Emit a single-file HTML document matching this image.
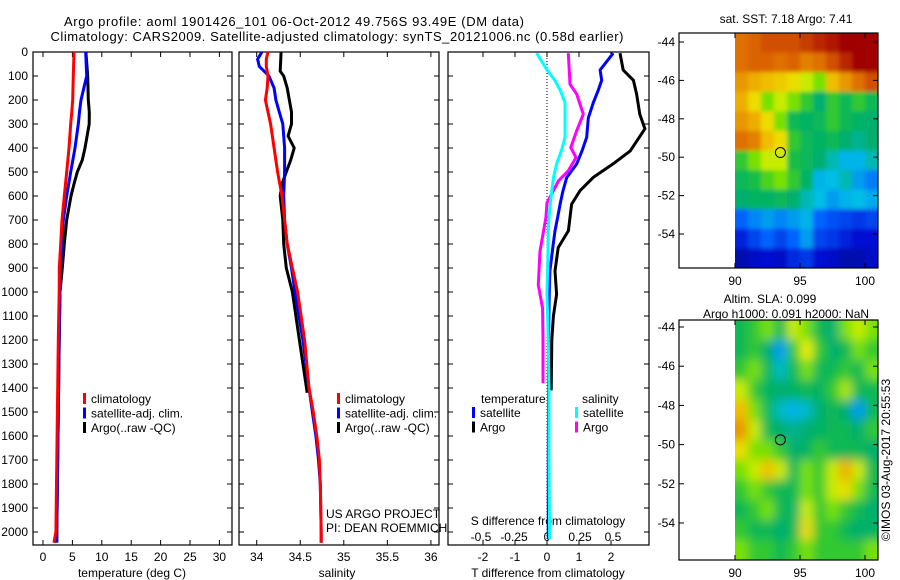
<!DOCTYPE html>
<html><head><meta charset="utf-8">
<style>
html,body{margin:0;padding:0;background:#fff;}
svg{display:block;font-family:"Liberation Sans",sans-serif;}
</style></head>
<body>
<svg id="fig" width="900" height="580" viewBox="0 0 900 580">
<defs>
<clipPath id="clipSST"><rect x="735" y="33" width="143" height="235"/></clipPath>
<clipPath id="clipSLA"><rect x="735" y="320" width="143" height="240"/></clipPath>
<filter id="blurS" x="-10%" y="-10%" width="120%" height="120%"><feGaussianBlur stdDeviation="2"/></filter>
<filter id="blurL" x="-10%" y="-10%" width="120%" height="120%"><feGaussianBlur stdDeviation="5"/></filter>
</defs>
<text x="294" y="26" font-size="13" text-anchor="middle" textLength="460">Argo profile: aoml 1901426_101 06-Oct-2012 49.756S 93.49E (DM data)</text>
<text x="337" y="41" font-size="13" text-anchor="middle" textLength="573">Climatology: CARS2009. Satellite-adjusted climatology: synTS_20121006.nc (0.58d earlier)</text>
<g id="content"></g>
</svg>
<script>
// ---------- data ----------
const tDepth = [0,100,200,250,300,400,500,600,700,800,900,1000,1200,1500,1800,2000,2045];
const tClim  = [5.27,5.15,5.05,4.9,4.71,4.42,4.03,3.62,3.23,3.01,2.77,2.75,2.6,2.45,2.3,2.2,1.85];
const tSat   = [7.26,7.43,6.46,6.2,6.0,5.44,4.71,4.03,3.45,3.18,3.01,2.89,2.75,2.6,2.45,2.35,2.35];
const tArgoDepth = [0,100,200,250,300,400,450,500,550,600,700,800,900,1000,1200,1500,1800,2000,2040];
const tArgo  = [7.3,7.6,7.7,7.87,7.85,7.14,6.68,5.83,5.27,4.76,4.03,3.62,3.28,2.89,2.75,2.6,2.45,2.35,2.35];

const sDepth = [0,30,60,100,150,200,250,300,400,500,600,700,800,900,1000,1200,1400,1500,1600,1700,1800,2000,2045];
const sClim  = [34.13,34.11,34.11,34.13,34.12,34.10,34.13,34.16,34.2,34.24,34.29,34.32,34.35,34.41,34.47,34.55,34.6,34.65,34.69,34.72,34.73,34.74,34.74];
const sSat   = [34.06,34.01,34.03,34.14,34.2,34.22,34.26,34.3,34.32,34.32,34.31,34.32,34.35,34.4,34.44,34.53,34.6,34.64,34.68,34.71,34.73,34.74,34.74];
const sArgoDepth = [0,80,100,150,250,300,350,400,450,500,550,600,700,800,900,1000,1200,1420];
const sArgo  = [34.28,34.27,34.31,34.35,34.4,34.4,34.36,34.43,34.39,34.34,34.29,34.27,34.3,34.31,34.34,34.41,34.49,34.58];

const dDepth = [5,75,118,160,210,275,355,410,466,522,578,634,690,745,815,913,1010,1200,1400,1700,2030];
const dTsat  = [2.07,1.66,1.71,1.6,1.45,1.29,1.24,1.1,0.93,0.62,0.5,0.41,0.33,0.25,0.18,0.09,0.07,0.05,0.05,0.04,0.04];
const dTargoDepth = [5,75,118,175,259,320,372,412,466,522,578,634,745,815,913,1010,1100,1200,1410];
const dTargo = [2.28,2.38,2.7,2.8,2.9,3.06,2.8,2.6,2.07,1.45,1.03,0.77,0.67,0.35,0.25,0.3,0.2,0.15,0.13];
const dSsat  = [-0.078,0,0.06,0.1,0.136,0.136,0.136,0.11,0.073,0.05,0.036,0.025,0.015,0.01,0.008,0.004,0,0.01,0.015,0.015,0.02];
const dSargoDepth = [5,134,175,259,328,398,440,495,537,579,628,690,830,970,1068,1200,1380];
const dSargo = [0.161,0.174,0.225,0.275,0.225,0.18,0.22,0.161,0.086,0.048,0,-0.008,-0.053,-0.066,-0.033,-0.03,-0.03];

const depthTicks = [0,100,200,300,400,500,600,700,800,900,1000,1100,1200,1300,1400,1500,1600,1700,1800,1900,2000];
const tempTicks = [0,5,10,15,20,25,30];
const salTicks = [34,34.5,35,35.5,36];
const salTickLabels = ["34","34.5","35","35.5","36"];
const tdTicks = [-2,-1,0,1,2];
const sdTicks = [-0.5,-0.25,0,0.25,0.5];
const latTicks = [-44,-46,-48,-50,-52,-54];
const lonTicks = [90,95,100];

const sstGrid = [
[0.8,0.82,0.85,0.85,0.85,0.88,0.92,0.95,1,1,1],
[0.8,0.82,0.82,0.8,0.82,0.78,0.8,0.85,0.92,1,1],
[0.75,0.72,0.7,0.68,0.65,0.6,0.55,0.7,0.75,0.8,0.85],
[0.72,0.65,0.55,0.6,0.55,0.5,0.4,0.5,0.45,0.5,0.45],
[0.75,0.72,0.65,0.55,0.45,0.42,0.44,0.5,0.45,0.42,0.4],
[0.8,0.78,0.7,0.65,0.5,0.44,0.42,0.45,0.4,0.38,0.4],
[0.5,0.55,0.6,0.6,0.48,0.44,0.4,0.36,0.32,0.32,0.36],
[0.44,0.48,0.52,0.55,0.5,0.42,0.32,0.33,0.36,0.3,0.27],
[0.4,0.42,0.42,0.44,0.4,0.36,0.33,0.3,0.32,0.33,0.31],
[0.25,0.28,0.3,0.28,0.3,0.32,0.25,0.22,0.2,0.18,0.2],
[0.15,0.2,0.25,0.2,0.25,0.3,0.2,0.18,0.15,0.12,0.12],
[0.06,0.1,0.12,0.1,0.16,0.18,0.12,0.1,0.06,0.06,0.1]];
const slaGrid = [
[0.45,0.5,0.55,0.45,0.6,0.55,0.45,0.4,0.55,0.6,0.55],
[0.45,0.5,0.4,0.3,0.5,0.62,0.5,0.4,0.45,0.55,0.5],
[0.5,0.55,0.45,0.35,0.45,0.55,0.45,0.45,0.5,0.45,0.55],
[0.6,0.5,0.42,0.4,0.42,0.45,0.42,0.5,0.58,0.45,0.45],
[0.7,0.55,0.45,0.35,0.32,0.35,0.4,0.45,0.4,0.3,0.45],
[0.75,0.6,0.45,0.4,0.38,0.4,0.42,0.45,0.45,0.4,0.5],
[0.65,0.55,0.55,0.5,0.4,0.42,0.5,0.45,0.45,0.45,0.4],
[0.55,0.6,0.7,0.6,0.45,0.55,0.5,0.6,0.72,0.6,0.45],
[0.5,0.55,0.5,0.45,0.45,0.55,0.5,0.6,0.65,0.55,0.45],
[0.45,0.5,0.55,0.45,0.42,0.6,0.5,0.55,0.5,0.45,0.4],
[0.5,0.45,0.45,0.4,0.45,0.65,0.5,0.5,0.45,0.4,0.42],
[0.55,0.5,0.5,0.45,0.5,0.55,0.5,0.5,0.5,0.5,0.55]];
const argoLon = [93.49];
const argoLat = [-49.756];

// ---------- scales ----------
const TOP=52, BOT=545;
const yD = d => TOP + d*0.24;
const xT = t => 43 + t*5.88;
const xS = s => 256.7 + (s-34)*87.1;
const xTd = t => 547 + t*32;
const xSd = s => 547 + s*132;
const xLon = l => 735 + (l-90)*13.0;
const yLat1 = l => 42 + (-44-l)*19.2;
const yLat2 = l => 327 + (-44-l)*19.6;

const NS="http://www.w3.org/2000/svg";
const root=document.getElementById('content');
function el(tag, attrs, parent){const e=document.createElementNS(NS,tag);for(const k in attrs)e.setAttribute(k,attrs[k]);(parent||root).appendChild(e);return e;}
function txt(x,y,s,size,anchor,parent){const e=el('text',{x:x,y:y,'font-size':size,'text-anchor':anchor||'middle'},parent);e.textContent=s;return e;}
function stepPath(xs,ds,xf){let p='';for(let i=0;i<xs.length;i++){const x=xf(xs[i]),y=yD(ds[i]);p+=(i?'L':'M')+x.toFixed(1)+','+y.toFixed(1);}return p;}

const panels=[{x0:33,x1:232,n:'temperature'},{x0:239,x1:439,n:'salinity'},{x0:448,x1:649,n:'difference'}];
panels.forEach(p=>{
  const r=el('rect',{x:p.x0,y:TOP,width:p.x1-p.x0,height:BOT-TOP,fill:'#fff',stroke:'#000','stroke-width':1.2});
  
  
  depthTicks.forEach(d=>{
    el('line',{x1:p.x0,x2:p.x0+5,y1:yD(d),y2:yD(d),stroke:'#000'});
    el('line',{x1:p.x1,x2:p.x1-5,y1:yD(d),y2:yD(d),stroke:'#000'});
  });
});
depthTicks.forEach(d=>{
  const t=txt(28,yD(d)+4,String(d),12,'end');
  
  
});
tempTicks.forEach(v=>{
  el('line',{x1:xT(v),x2:xT(v),y1:BOT,y2:BOT-5,stroke:'#000'});
  el('line',{x1:xT(v),x2:xT(v),y1:TOP,y2:TOP+5,stroke:'#000'});
  const t=txt(xT(v),561,String(v),12);
  
  
});
salTicks.forEach((v,i)=>{
  el('line',{x1:xS(v),x2:xS(v),y1:BOT,y2:BOT-5,stroke:'#000'});
  el('line',{x1:xS(v),x2:xS(v),y1:TOP,y2:TOP+5,stroke:'#000'});
  const t=txt(xS(v),561,salTickLabels[i],12);
  
  
});
tdTicks.forEach(v=>{
  el('line',{x1:xTd(v),x2:xTd(v),y1:BOT,y2:BOT-5,stroke:'#000'});
  el('line',{x1:xTd(v),x2:xTd(v),y1:TOP,y2:TOP+5,stroke:'#000'});
  const t=txt(xTd(v),561,String(v),12);
  
  
});
sdTicks.forEach(v=>{
  const t=txt(xSd(v),541,String(v),12);
  
  
});
const zl=el('line',{x1:xTd(0),x2:xTd(0),y1:TOP,y2:BOT,stroke:'#000','stroke-dasharray':'1,2'});



let a;
a=txt(132,577,'temperature (deg C)',12);
a=txt(337,577,'salinity',12);
a=txt(548,577,'T difference from climatology',12);
a=txt(548,525,'S difference from climatology',12);

function series(xs,ds,xf,color,name){
  const p=el('path',{d:stepPath(xs,ds,xf),fill:'none',stroke:color,'stroke-width':3,'stroke-linejoin':'miter'});
  
  
}
series(tArgo,tArgoDepth,xT,'#000','temperature-argo-line');
series(tSat,tDepth,xT,'#0000ff','temperature-satellite-line');
series(tClim,tDepth,xT,'#ff0000','temperature-climatology-line');
series(sArgo,sArgoDepth,xS,'#000','salinity-argo-line');
series(sSat,sDepth,xS,'#0000ff','salinity-satellite-line');
series(sClim,sDepth,xS,'#ff0000','salinity-climatology-line');
series(dTargo,dTargoDepth,xTd,'#000','t-diff-argo-line');
series(dTsat,dDepth,xTd,'#0000ff','t-diff-satellite-line');
series(dSargo,dSargoDepth,xSd,'#ff00ff','s-diff-argo-line');
series(dSsat,dDepth,xSd,'#00ffff','s-diff-satellite-line');

function legend(x,y,items,name){
  const g=el('g',{});
  
  
  items.forEach((it,i)=>{
    el('rect',{x:x,y:y+i*14.5-6,width:3,height:11,fill:it[0]},g);
    txt(x+8,y+i*14.5+4,it[1],12,'start',g);
  });
}
const L=[['#ff0000','climatology'],['#0000ff','satellite-adj. clim.'],['#000','Argo(..raw -QC)']];
legend(83,399,L,'temperature-legend');
legend(337,399,L,'salinity-legend');
a=txt(481,403,'temperature',12,'start');
a=txt(582,403,'salinity',12,'start');
legend(472,413,[['#0000ff','satellite'],['#000','Argo']],'t-difference-legend');
legend(575,413,[['#00ffff','satellite'],['#ff00ff','Argo']],'s-difference-legend');
a=txt(326,518,'US ARGO PROJECT',12,'start');
a=txt(326,532,'PI: DEAN ROEMMICH',12,'start');

// ---------- maps ----------
const cmapStops=[[0,[0,0,140]],[0.12,[0,16,210]],[0.25,[0,100,255]],[0.33,[0,190,230]],[0.4,[0,175,110]],[0.48,[20,190,70]],[0.55,[120,225,0]],[0.62,[232,240,0]],[0.7,[240,190,0]],[0.8,[224,112,0]],[0.9,[192,48,0]],[1,[160,0,0]]];
function cmap(v){
  v=Math.max(0,Math.min(1,v));
  for(let i=1;i<cmapStops.length;i++){
    if(v<=cmapStops[i][0]){
      const a0=cmapStops[i-1],a1=cmapStops[i],f=(v-a0[0])/(a1[0]-a0[0]);
      const c=a0[1].map((q,k)=>Math.round(q+(a1[1][k]-q)*f));
      return 'rgb('+c.join(',')+')';
    }
  }
  return 'rgb(160,0,0)';
}
function map(grid,top,bottom,clip,filt,name){
  const g=el('g',{'clip-path':'url(#'+clip+')'});
  
  
  const inner=el('g',{filter:'url(#'+filt+')'},g);
  const rows=grid.length, cols=grid[0].length;
  const cw=143/cols, ch=(bottom-top)/rows;
  for(let r=0;r<rows;r++)for(let c=0;c<cols;c++){
    let x=735+c*cw,y=top+r*ch,w=cw+0.6,h=ch+0.6;
    if(c===0){x-=12;w+=12;} if(c===cols-1){w+=12;}
    if(r===0){y-=12;h+=12;} if(r===rows-1){h+=12;}
    el('rect',{x:x,y:y,width:w,height:h,fill:cmap(grid[r][c])},inner);
  }
}
map(sstGrid,33,268,'clipSST','blurS','sst-map');
map(slaGrid,320,560,'clipSLA','blurL','sla-map');
function mapAxes(top,bottom,yLat,name){
  const r=el('rect',{x:679,y:top,width:199,height:bottom-top,fill:'none',stroke:'#000','stroke-width':1.2});
  
  
  latTicks.forEach(l=>{
    el('line',{x1:679,x2:684,y1:yLat(l),y2:yLat(l),stroke:'#000'});
    el('line',{x1:878,x2:873,y1:yLat(l),y2:yLat(l),stroke:'#000'});
    const t=txt(675,yLat(l)+4,String(l),12,'end');
    
    
  });
  lonTicks.forEach(l=>{
    el('line',{x1:xLon(l),x2:xLon(l),y1:bottom,y2:bottom-5,stroke:'#000'});
    el('line',{x1:xLon(l),x2:xLon(l),y1:top,y2:top+5,stroke:'#000'});
    const t=txt(xLon(l),bottom+17,String(l),12);
    
    
  });
  const m=el('circle',{cx:xLon(argoLon[0]),cy:yLat(argoLat[0]),r:5,fill:'none',stroke:'#000','stroke-width':1});
  
  
}
mapAxes(33,268,yLat1,'sst-map');
mapAxes(320,560,yLat2,'sla-map');
a=txt(786,23,'sat. SST: 7.18 Argo: 7.41',12);
a=txt(770,303,'Altim. SLA: 0.099',12);
a=txt(786,318,'Argo h1000: 0.091 h2000: NaN',12);
a=txt(0,0,'\u00a9IMOS 03-Aug-2017 20:55:53',12);a.setAttribute('transform','translate(890,460) rotate(-90)');
</script>
</body></html>
